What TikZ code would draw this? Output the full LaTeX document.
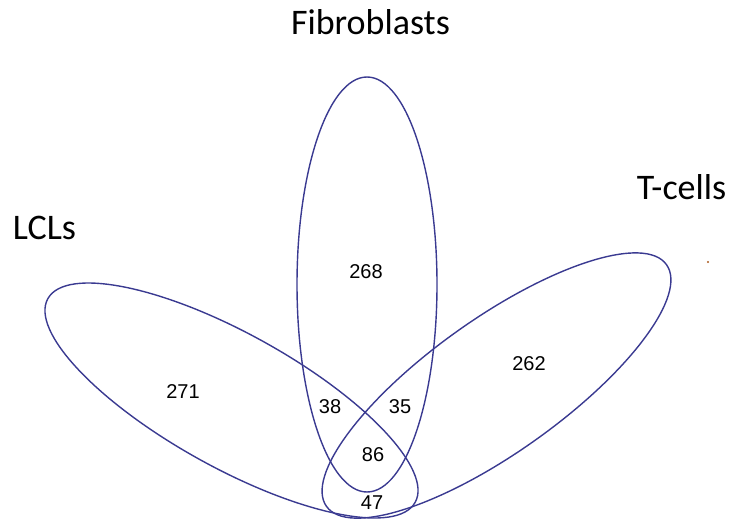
\documentclass[tikz,border=0pt]{standalone}
\usepackage{fontspec}
\setmainfont{Carlito}
\newfontfamily\countfont{Liberation Sans}
\usetikzlibrary{positioning}
\definecolor{vennblue}{RGB}{58,58,145}
\definecolor{dotbrown}{RGB}{170,90,30}

\begin{document}
\begin{tikzpicture}[x=1pt, y=1pt,
        setline/.style={draw=vennblue, line width=1.4pt},
        setname/.style={font=\fontsize{36}{40}\selectfont, anchor=base, inner sep=0pt},
        count/.style={font=\countfont\fontsize{20}{22}\selectfont, inner sep=0pt}
    ]
    \useasboundingbox (0,0) rectangle (735,523);
    % the three sets
    \coordinate (cfib) at (367,238.5);
    \coordinate (clcl) at (231.5,122.5);
    \coordinate (ctc) at (496.5,137.5);
    \draw[setline] (cfib) ellipse [x radius=70, y radius=207.5];
    \draw[setline, rotate around={-29:(clcl)}] (clcl) ellipse [x radius=210, y radius=67];
    \draw[setline, rotate around={35.4:(ctc)}] (ctc) ellipse [x radius=208.6, y radius=67];

    % set names
    \node[setname] (fib) at (370.5,488) {Fibroblasts};
    \node[setname] (lcl) at (44.5,284) {LCLs};
    \node[setname] (tc) at (681.5,324) {T-cells};

    % counts
    \node[count] (n271) at (183,131) {271};
    \node[count] (n268) at (366,251) {268};
    \node[count] (n262) at (529,159) {262};
    \node[count] (n38) at (330,116) {38};
    \node[count] (n35) at (400,116) {35};
    \node[count] (n86) at (373,68) {86};
    \node[count] (n47) at (372,20) {47};

    \fill[dotbrown] (708,261) circle (1.2);
\end{tikzpicture}
\end{document}
